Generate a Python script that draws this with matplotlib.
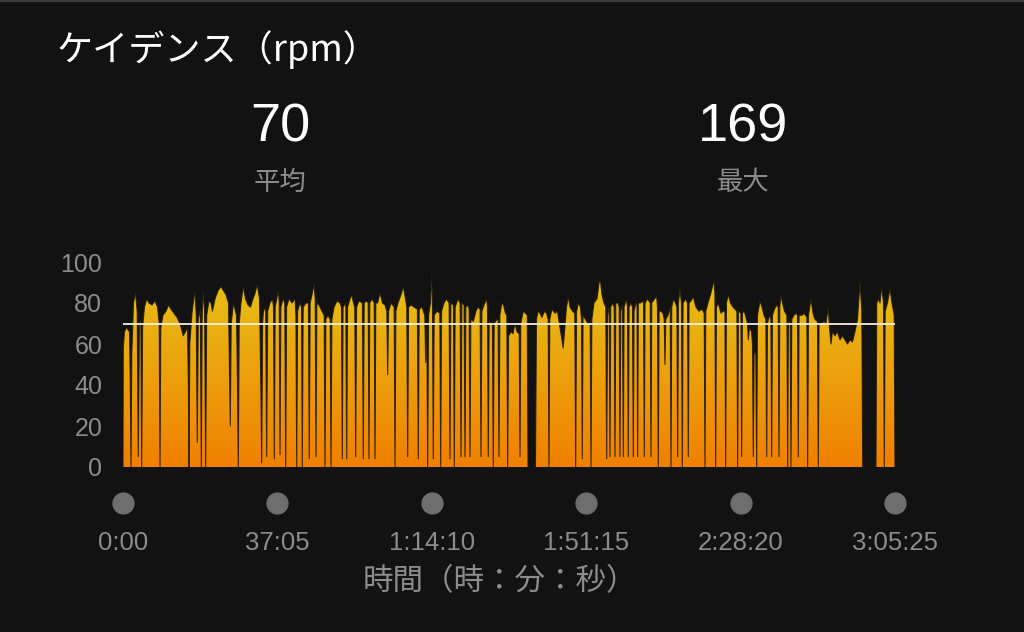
import matplotlib.pyplot as plt
import numpy as np
from matplotlib.colors import LinearSegmentedColormap
from matplotlib.patches import PathPatch
from matplotlib.path import Path
from matplotlib.transforms import blended_transform_factory

# cadence track (elapsed minutes, rpm)
time_min = [
    0.00, 0.07, 0.36, 0.84, 1.56, 1.75, 1.92, 2.11, 2.52, 3.00,
    3.41, 3.67, 3.94, 4.28, 4.49, 4.71, 5.16, 5.69, 6.24, 6.96,
    7.69, 8.29, 8.69, 8.89, 9.08, 9.61, 10.33, 10.93, 11.53, 12.25,
    12.97, 13.69, 14.48, 15.01, 15.49, 15.71, 15.85, 16.04, 16.57, 17.24,
    17.60, 17.84, 18.08, 18.57, 18.81, 19.02, 19.29, 19.60, 19.86, 20.10,
    20.65, 21.13, 21.49, 22.10, 22.82, 23.54, 24.14, 24.74, 25.34, 25.58,
    25.77, 25.99, 26.54, 27.26, 27.50, 27.69, 27.91, 28.34, 28.89, 29.42,
    30.02, 30.62, 31.22, 31.75, 32.25, 32.78, 33.10, 33.31, 33.53,
    33.74, 34.27, 34.51, 34.75, 35.30, 35.91, 36.15, 36.34, 36.55, 37.30,
    37.52, 37.71, 37.92, 38.43, 38.86, 39.08, 39.29, 39.87, 40.59, 41.31,
    41.53, 41.72, 41.93, 42.51, 42.87, 43.06, 43.28, 43.95, 44.53, 44.74,
    44.96, 45.39, 45.87, 46.16, 46.35, 46.57, 47.07, 47.79, 48.32, 48.51,
    48.73, 49.23, 49.76, 49.96, 50.17, 50.68, 51.40, 52.12, 52.48, 52.67,
    52.86, 53.51, 53.73, 53.94, 54.52, 54.93, 55.36, 55.67, 55.89, 56.10,
    56.68, 57.50, 57.71, 57.93, 58.48, 58.89, 59.08, 59.27, 59.80, 60.33,
    60.52, 60.72,
    61.15, 61.72, 62.32, 62.92, 63.36, 63.57, 63.79, 64.37, 65.13, 65.33,
    65.54, 66.05, 66.77, 67.32, 67.85, 68.16, 68.38, 68.59, 69.17, 69.89,
    70.71, 70.92, 71.14, 71.81, 72.48, 72.70, 72.96, 73.18, 73.40, 73.85,
    74.14, 74.33, 74.52, 74.74, 75.41, 76.09, 76.30, 76.52, 77.09, 77.70,
    78.32, 78.54, 78.75, 79.35, 79.57, 79.78, 80.46, 80.96, 81.18, 81.39,
    81.92, 82.14, 82.35, 82.86, 83.12, 83.34, 83.55, 84.13, 84.78, 85.26,
    85.77, 85.98, 86.20, 86.70, 87.35, 87.54, 87.73, 87.95, 88.38, 88.72,
    88.93, 89.15, 89.82, 90.09, 90.30, 90.52, 90.98, 91.38, 91.86, 92.18,
    92.39,
    92.61, 93.19, 93.67, 94.15, 94.63, 95.16, 95.35, 95.54, 96.14, 96.67,
    97.10, 97.27, 99.07, 99.31, 99.67, 100.15, 100.63, 101.23, 101.71, 102.12,
    102.31, 102.50, 103.03, 103.75, 104.35, 104.95, 105.43, 105.72, 106.04, 106.52,
    106.95, 107.36, 107.96, 108.51, 108.72, 108.94, 109.40, 109.88, 110.12, 110.31,
    110.50, 111.08, 111.68, 112.21, 112.40, 112.61, 113.12, 113.84, 114.56, 115.04,
    115.52, 115.95, 116.17, 116.39, 116.77, 116.96, 117.15, 117.56, 117.97, 118.16,
    118.36, 118.88, 119.17, 119.36, 119.56, 119.96, 120.16, 120.35, 120.92, 121.17,
    121.36, 121.55, 122.01, 122.37, 122.56, 122.75, 123.21, 123.45, 123.61, 123.78,
    124.29, 125.01, 125.20, 125.39, 125.97, 126.62, 126.81, 127.00, 127.65, 128.18,
    128.37, 128.56, 128.76, 129.21, 129.69, 129.98, 130.17, 130.36, 130.89, 131.42,
    131.61, 131.80, 132.21, 132.69, 133.03, 133.22, 133.41, 133.77, 134.13, 134.33,
    134.52, 135.10, 135.58, 135.77, 135.96, 136.42, 136.97, 137.62, 138.34, 139.06,
    139.59, 139.78, 139.97, 140.50, 141.10, 141.94, 142.16, 142.35, 142.54, 142.97,
    143.62, 144.10, 144.56, 144.75, 144.94, 145.38, 145.90, 146.50, 147.44, 147.63,
    147.82, 148.40, 148.59, 148.78, 149.39, 149.99, 150.18, 150.47, 150.95, 151.19,
    151.38, 151.59, 151.98, 152.20, 152.39, 152.99, 153.47, 153.95, 154.40, 154.60,
    154.79, 155.27, 155.61, 155.80, 155.99, 156.47, 157.00, 157.36, 157.55, 157.75,
    158.03, 158.39, 158.87, 159.45, 159.64, 159.83, 160.24, 160.43, 160.63, 161.15,
    161.63, 162.00, 162.19, 162.38, 163.08, 163.56, 164.25, 164.44, 164.64, 165.24,
    165.72, 166.20, 166.80, 166.99, 167.18, 167.76, 168.36, 168.84, 169.39, 169.68,
    170.04, 170.40, 171.00, 171.60, 172.20, 172.80, 173.40, 174.00, 174.60, 175.20,
    175.80, 176.41, 177.01, 177.44, 177.66, 180.85, 181.04, 181.45, 181.81, 182.22,
    182.65, 182.84, 183.06, 183.61, 184.21, 184.69, 185.22, 185.41,
]
cadence_rpm = [
    0, 58, 66, 68, 66, 40, 0, 55, 80, 85,
    76, 5, 70, 72, 0, 68, 78, 82, 80, 79,
    81, 78, 70, 0, 68, 74, 76, 79, 77, 75,
    73, 70, 64, 66, 68, 40, 0, 60, 75, 86,
    74, 12, 72, 77, 0, 74, 86, 76, 0, 74,
    81, 80, 76, 82, 86, 88, 86, 84, 80, 45,
    20, 70, 80, 74, 40, 0, 70, 80, 88, 82,
    79, 78, 82, 85, 89, 82, 40, 2, 70,
    76, 78, 5, 76, 80, 82, 78, 4, 78, 86,
    80, 6, 78, 82, 80, 0, 78, 82, 80, 82,
    74, 0, 76, 80, 78, 0, 78, 80, 80, 4,
    80, 84, 89, 82, 5, 80, 79, 76, 74, 0,
    72, 74, 72, 0, 72, 78, 81, 80, 78, 4,
    78, 80, 4, 78, 82, 84, 80, 78, 5, 78,
    81, 80, 4, 80, 81, 80, 4, 80, 82, 80,
    4, 80,
    80, 85, 80, 79, 76, 45, 76, 80, 78, 0,
    76, 80, 84, 88, 82, 78, 5, 78, 79, 78,
    77, 4, 77, 78, 74, 51, 70, 0, 74, 80,
    95, 78, 4, 74, 76, 75, 0, 76, 80, 82,
    80, 4, 80, 79, 0, 78, 82, 80, 5, 80,
    79, 5, 78, 79, 77, 5, 72, 71, 76, 78,
    77, 5, 76, 79, 82, 78, 5, 72, 70, 70,
    0, 70, 72, 72, 5, 74, 80, 79, 75, 74,
    0,
    64, 66, 65, 70, 66, 65, 5, 70, 76, 75,
    74, 0, 0, 72, 76, 75, 73, 76, 75, 72,
    0, 72, 77, 75, 76, 68, 62, 58, 66, 78,
    83, 78, 76, 75, 0, 76, 80, 78, 72, 4,
    74, 72, 70, 70, 0, 72, 80, 82, 93, 84,
    80, 78, 4, 74, 78, 5, 78, 80, 78, 5,
    80, 80, 78, 5, 76, 79, 5, 78, 82, 78,
    5, 78, 80, 78, 5, 76, 80, 79, 5, 80,
    80, 81, 5, 80, 82, 80, 5, 80, 82, 83,
    78, 0, 76, 76, 75, 72, 50, 72, 74, 78,
    0, 78, 82, 80, 78, 5, 80, 87, 80, 0,
    80, 82, 80, 5, 80, 81, 83, 78, 76, 77,
    75, 0, 76, 80, 84, 91, 85, 0, 78, 80,
    75, 76, 76, 0, 80, 84, 80, 78, 76, 0,
    76, 75, 5, 76, 75, 70, 62, 68, 66, 60,
    5, 56, 55, 0, 74, 81, 78, 74, 72, 5,
    70, 74, 72, 5, 74, 77, 79, 78, 5, 78,
    84, 80, 76, 74, 0, 72, 70, 0, 72, 74,
    75, 74, 5, 74, 74, 75, 73, 0, 74, 82,
    75, 72, 71, 0, 70, 70, 71, 70, 78, 68,
    60, 66, 64, 66, 62, 64, 62, 60, 62, 61,
    66, 72, 90, 76, 0, 0, 80, 82, 80, 88,
    80, 0, 76, 80, 87, 80, 74, 0,
]
assert len(time_min) == len(cadence_rpm)

avg_rpm = 70
max_rpm = 169
tick_sec = [0, 2225, 4450, 6675, 8900, 11125]
tick_labels = ['0:00', '37:05', '1:14:10', '1:51:15', '2:28:20', '3:05:25']
y_ticks = [0, 20, 40, 60, 80, 100]

bg = '#121212'
grey = '#8c8c8c'
cjk = ['Noto Sans CJK JP', 'DejaVu Sans']
num = ['Liberation Sans', 'DejaVu Sans']

fig = plt.figure(figsize=(10.24, 6.32), dpi=100, facecolor=bg)
ax = fig.add_axes([123 / 1024, 165 / 632, 772 / 1024, 205 / 632])
ax.set_facecolor(bg)

end_min = tick_sec[-1] / 60
ax.set_xlim(0, end_min)
ax.set_ylim(0, 100)

# area under the curve, filled with an orange -> yellow gradient
area = ax.fill_between(time_min, 0, cadence_rpm, facecolor='none', edgecolor='none')
cmap = LinearSegmentedColormap.from_list('cad', ['#f08000', '#eca00c', '#e6bf16'])
grad = np.linspace(0, 1, 256).reshape(-1, 1)
img = ax.imshow(grad, extent=[0, end_min, 0, 90], origin='lower', aspect='auto',
                cmap=cmap, zorder=2, interpolation='bilinear')
clip = PathPatch(Path.make_compound_path(*area.get_paths()), transform=ax.transData,
                 facecolor='none', edgecolor='none')
ax.add_patch(clip)
img.set_clip_path(clip)
ax.set_ylim(0, 100)

# dark edge along the trace, so the short stops show as thin lines
ax.plot(time_min, cadence_rpm, color='#22190a', lw=0.8, alpha=0.85, zorder=3)

# average line
ax.axhline(avg_rpm, color='#f2efe0', lw=1.3, zorder=4)

# axes styling
for s in ax.spines.values():
    s.set_visible(False)
ax.set_yticks(y_ticks)
ax.set_yticklabels([str(v) for v in y_ticks], fontsize=18, color=grey, family=num)
ax.tick_params(axis='y', length=0, pad=15)
tick_min = [s / 60 for s in tick_sec]
ax.set_xticks(tick_min)
ax.set_xticklabels(tick_labels, fontsize=18.5, color=grey, family=num)
ax.tick_params(axis='x', length=0, pad=46)

# grey dots above the time labels
trans = blended_transform_factory(ax.transData, ax.transAxes)
ax.scatter(tick_min, np.full(len(tick_min), -36 / 205), transform=trans, s=225,
           color='#6e6e6e', clip_on=False, zorder=3)

# header texts
fig.text(57 / 1024, 1 - 50 / 632, 'ケイデンス（rpm）', color='white', fontsize=26,
         family=cjk, ha='left', va='center')
fig.text(280 / 1024, 1 - 128 / 632, str(avg_rpm), color='white', fontsize=39,
         family=num, ha='center', va='center')
fig.text(280 / 1024, 1 - 182 / 632, '平均', color=grey, fontsize=19,
         family=cjk, ha='center', va='center')
fig.text(743 / 1024, 1 - 128 / 632, str(max_rpm), color='white', fontsize=39,
         family=num, ha='center', va='center')
fig.text(743 / 1024, 1 - 182 / 632, '最大', color=grey, fontsize=19,
         family=cjk, ha='center', va='center')
fig.text(500 / 1024, 1 - 582 / 632, '時間（時：分：秒）', color=grey, fontsize=22,
         family=cjk, ha='center', va='center')

# thin lighter strip at the very top
fig.add_artist(plt.Line2D([0, 1], [1, 1], transform=fig.transFigure, color='#3a3a3a', lw=3))

fig.savefig('out.png', dpi=100, facecolor=bg)
